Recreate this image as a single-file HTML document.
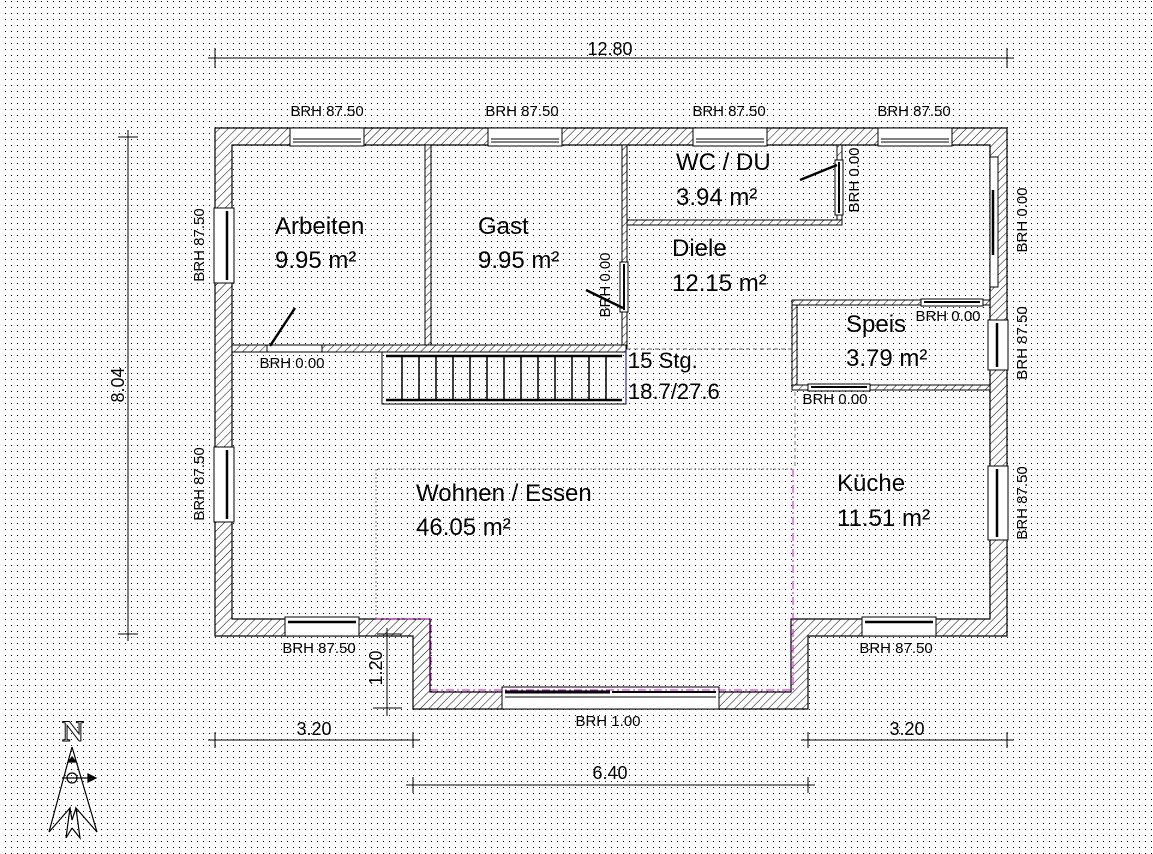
<!DOCTYPE html>
<html><head><meta charset="utf-8"><style>
html,body{margin:0;padding:0;background:#fff;}
svg{display:block;font-family:"Liberation Sans",sans-serif;}
</style></head><body>
<svg width="1153" height="854" viewBox="0 0 1153 854" xmlns="http://www.w3.org/2000/svg">
<defs>
<pattern id="dots" x="5" y="1" width="6" height="6" patternUnits="userSpaceOnUse">
<rect x="0" y="0" width="1" height="1" fill="#000"/>
</pattern>
<pattern id="hatch" width="6" height="6" patternUnits="userSpaceOnUse" patternTransform="rotate(45)">
<rect width="6" height="6" fill="#fff"/>
<line x1="0" y1="0" x2="0" y2="6" stroke="#000" stroke-width="1"/>
</pattern>
</defs>
<rect width="1153" height="854" fill="#fff"/>
<rect width="1153" height="854" fill="url(#dots)"/>

<path fill-rule="evenodd" fill="url(#hatch)" stroke="#000" stroke-width="1.2"
d="M215,128 H1007 V636 H808 V709 H413 V636 H215 Z M232,145 V619 H430 V692 H791 V619 H990 V145 Z"/>

<g fill="url(#hatch)" stroke="#000" stroke-width="1">
<rect x="425" y="145" width="6" height="200"/>
<rect x="622" y="145" width="5" height="204"/>
<rect x="232" y="345" width="394" height="7"/>
<rect x="627" y="220" width="215" height="5"/>
<rect x="837" y="145" width="5" height="75"/>
<rect x="792" y="300" width="198" height="5"/>
<rect x="792" y="385" width="198" height="5"/>
<rect x="792" y="305" width="5" height="80"/>
</g>

<g fill="#fff" stroke="#000" stroke-width="1">
<rect x="290" y="128" width="74" height="18"/><line x1="293" y1="139" x2="361" y2="139"/><line x1="293" y1="142" x2="361" y2="142"/>
<rect x="488" y="128" width="74" height="18"/><line x1="491" y1="139" x2="559" y2="139"/><line x1="491" y1="142" x2="559" y2="142"/>
<rect x="693" y="128" width="74" height="18"/><line x1="696" y1="139" x2="764" y2="139"/><line x1="696" y1="142" x2="764" y2="142"/>
<rect x="878" y="128" width="74" height="18"/><line x1="881" y1="139" x2="949" y2="139"/><line x1="881" y1="142" x2="949" y2="142"/>
<rect x="214" y="208" width="20" height="75"/><line x1="227" y1="211" x2="227" y2="280" stroke-width="2.5"/>
<rect x="214" y="447" width="20" height="75"/><line x1="227" y1="450" x2="227" y2="519" stroke-width="2.5"/>
<rect x="990" y="157" width="8" height="130"/><line x1="993" y1="190" x2="993" y2="255" stroke-width="2.5"/>
<rect x="988" y="320" width="20" height="50"/><line x1="997" y1="323" x2="997" y2="367" stroke-width="2.5"/>
<rect x="988" y="466" width="20" height="74"/><line x1="997" y1="469" x2="997" y2="537" stroke-width="2.5"/>
<rect x="285" y="617" width="74" height="19"/><line x1="288" y1="622" x2="356" y2="622" stroke-width="2.5"/>
<rect x="862" y="617" width="74" height="19"/><line x1="865" y1="622" x2="933" y2="622" stroke-width="2.5"/>
<rect x="502" y="687" width="217" height="22"/><line x1="505" y1="692" x2="610" y2="692" stroke-width="3"/><line x1="612" y1="692" x2="716" y2="692" stroke-width="2"/><line x1="505" y1="697" x2="716" y2="697"/>
<rect x="921" y="299" width="62" height="7"/><line x1="924" y1="302" x2="980" y2="302" stroke-width="2"/>
<rect x="808" y="384" width="62" height="7"/><line x1="811" y1="387" x2="867" y2="387" stroke-width="2"/>
<rect x="267" y="345" width="55" height="7"/>
<rect x="620" y="262" width="8" height="50"/><line x1="624" y1="264" x2="624" y2="310" stroke-width="2"/>
<rect x="835" y="160" width="8" height="55"/><line x1="839" y1="162" x2="839" y2="213" stroke-width="2"/>
</g>
<g stroke="#000" stroke-width="2.5">
<line x1="270" y1="346" x2="295" y2="308"/>
<line x1="623" y1="308" x2="586" y2="290"/>
<line x1="837" y1="165" x2="800" y2="180"/>
</g>

<g fill="none" stroke="#000" stroke-width="1">
<rect x="382" y="352" width="244" height="52"/>
<line x1="386" y1="356" x2="622" y2="356" stroke-width="2.5"/>
<line x1="386" y1="400" x2="622" y2="400" stroke-width="2.5"/>
<g stroke-width="1.5">
<line x1="402" y1="355" x2="402" y2="401"/><line x1="419" y1="355" x2="419" y2="401"/><line x1="436" y1="355" x2="436" y2="401"/><line x1="453" y1="355" x2="453" y2="401"/><line x1="470" y1="355" x2="470" y2="401"/><line x1="487" y1="355" x2="487" y2="401"/><line x1="504" y1="355" x2="504" y2="401"/><line x1="521" y1="355" x2="521" y2="401"/><line x1="538" y1="355" x2="538" y2="401"/><line x1="555" y1="355" x2="555" y2="401"/><line x1="572" y1="355" x2="572" y2="401"/><line x1="589" y1="355" x2="589" y2="401"/><line x1="606" y1="355" x2="606" y2="401"/>
</g>
<line x1="626" y1="350" x2="626" y2="405" stroke="#00f" stroke-dasharray="3,2"/>
<line x1="627" y1="349" x2="792" y2="349" stroke="#666" stroke-dasharray="4,3"/>
</g>

<g fill="none" stroke-width="1">
<path d="M376,619 V469 H792" stroke="#777" stroke-dasharray="2,2"/>
<line x1="795" y1="392" x2="795" y2="469" stroke="#777" stroke-dasharray="4,3"/>
<path d="M793,469 V690 H431 V619 H376" stroke="#e000e0" stroke-dasharray="8,3,2,3"/>
</g>

<g stroke="#000" stroke-width="1" fill="none">
<line x1="208" y1="58" x2="1014" y2="58"/><line x1="215" y1="48" x2="215" y2="68"/><line x1="1007" y1="48" x2="1007" y2="68"/>
<line x1="128" y1="130" x2="128" y2="641"/><line x1="118" y1="137" x2="138" y2="137"/><line x1="118" y1="634" x2="138" y2="634"/>
<line x1="208" y1="740" x2="420" y2="740"/><line x1="215" y1="732" x2="215" y2="748"/><line x1="413" y1="732" x2="413" y2="748"/>
<line x1="801" y1="740" x2="1014" y2="740"/><line x1="808" y1="732" x2="808" y2="748"/><line x1="1007" y1="732" x2="1007" y2="748"/>
<line x1="406" y1="785" x2="815" y2="785"/><line x1="413" y1="777" x2="413" y2="793"/><line x1="808" y1="777" x2="808" y2="793"/>
<line x1="387" y1="628" x2="387" y2="716"/><line x1="377" y1="634" x2="402" y2="634"/><line x1="373" y1="708" x2="402" y2="708"/>
</g>
<g font-size="18" fill="#000">
<text x="610" y="55" text-anchor="middle">12.80</text>
<text transform="translate(124,385) rotate(-90)" text-anchor="middle">8.04</text>
<text x="314" y="735" text-anchor="middle">3.20</text>
<text x="907" y="735" text-anchor="middle">3.20</text>
<text x="610" y="779" text-anchor="middle">6.40</text>
<text transform="translate(382,668) rotate(-90)" text-anchor="middle">1.20</text>
</g>

<g font-size="15" fill="#000">
<text x="327" y="116" text-anchor="middle">BRH 87.50</text>
<text x="522" y="116" text-anchor="middle">BRH 87.50</text>
<text x="729" y="116" text-anchor="middle">BRH 87.50</text>
<text x="914" y="116" text-anchor="middle">BRH 87.50</text>
<text transform="translate(204,245) rotate(-90)" text-anchor="middle">BRH 87.50</text>
<text transform="translate(204,484) rotate(-90)" text-anchor="middle">BRH 87.50</text>
<text transform="translate(1027,220) rotate(-90)" text-anchor="middle">BRH 0.00</text>
<text transform="translate(1027,343) rotate(-90)" text-anchor="middle">BRH 87.50</text>
<text transform="translate(1027,503) rotate(-90)" text-anchor="middle">BRH 87.50</text>
<text transform="translate(859,180) rotate(-90)" text-anchor="middle">BRH 0.00</text>
<text transform="translate(610,285) rotate(-90)" text-anchor="middle">BRH 0.00</text>
<text x="292" y="368" text-anchor="middle">BRH 0.00</text>
<text x="948" y="321" text-anchor="middle">BRH 0.00</text>
<text x="835" y="404" text-anchor="middle">BRH 0.00</text>
<text x="319" y="653" text-anchor="middle">BRH 87.50</text>
<text x="896" y="653" text-anchor="middle">BRH 87.50</text>
<text x="608" y="726" text-anchor="middle">BRH 1.00</text>
</g>

<g font-size="24" fill="#000">
<text x="275" y="234">Arbeiten</text><text x="275" y="268">9.95 m²</text>
<text x="478" y="234">Gast</text><text x="478" y="268">9.95 m²</text>
<text x="676" y="170">WC / DU</text><text x="676" y="205">3.94 m²</text>
<text x="672" y="256">Diele</text><text x="672" y="291">12.15 m²</text>
<text x="846" y="332">Speis</text><text x="846" y="366">3.79 m²</text>
<text x="416" y="501">Wohnen / Essen</text><text x="416" y="535">46.05 m²</text>
<text x="837" y="491">Küche</text><text x="837" y="526">11.51 m²</text>
<text x="628" y="368" font-size="22">15 Stg.</text><text x="628" y="399" font-size="22">18.7/27.6</text>
</g>

<text x="73" y="741" text-anchor="middle" font-family="Liberation Serif,serif" font-size="30" font-weight="bold" fill="#fff" stroke="#000" stroke-width="1">N</text>
<g stroke="#000" stroke-width="1.2" fill="none">
<path d="M72,747 L49,832 L70,808 L66,838 L72,828"/>
<path d="M72,747 L97,832 L76,808 L80,838 L72,828"/>
<path d="M70,808 L72,820 L76,808"/>
<polygon points="72,757 68,762 76,762" fill="#000"/>
<line x1="62" y1="778" x2="88" y2="778"/>
<polygon points="88,774 96,778 88,782" fill="#000"/>
<circle cx="72" cy="778" r="5"/>
</g>
</svg>
</body></html>
